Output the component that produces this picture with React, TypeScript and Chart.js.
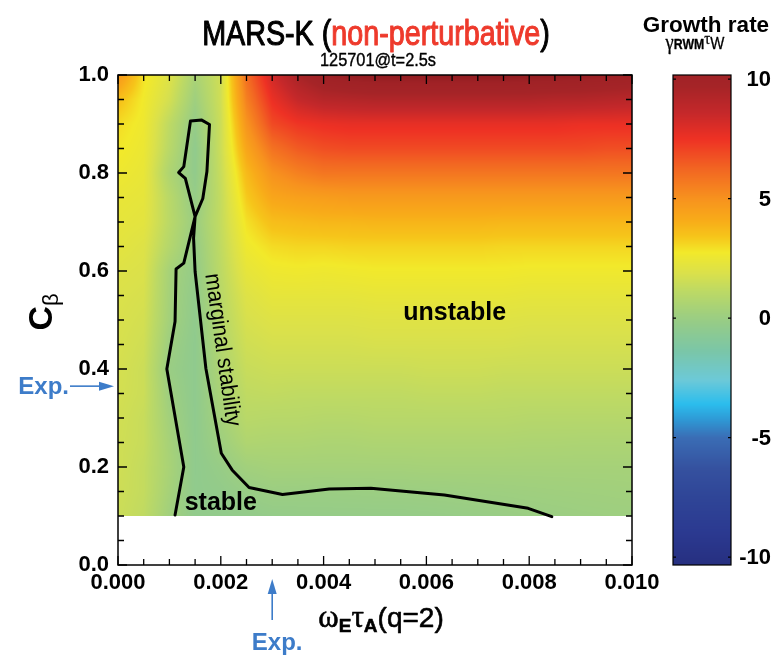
import React, { useEffect, useRef } from "react";
import { Chart, registerables } from "chart.js";

Chart.register(...registerables);

// ---------------- data ----------------
// grid of omega_E*tau_A (columns) and C_beta (rows, top to bottom)
const omegaGrid = [0, 0.0005, 0.001, 0.0015, 0.002, 0.0025, 0.003, 0.0035, 0.004, 0.0045, 0.005,
  0.0055, 0.006, 0.0065, 0.007, 0.0075, 0.008, 0.0085, 0.009, 0.0095, 0.01];
const cbetaGrid = [1.0, 0.95, 0.9, 0.85, 0.8, 0.75, 0.7, 0.65, 0.6, 0.55, 0.5, 0.45, 0.4, 0.35,
  0.3, 0.25, 0.2, 0.15, 0.1];

// growth rate gamma_RWM * tau_w, one array per C_beta row
const g100 = [4.9, 2.9, 2.0, 0.5, 1.6, 6.0, 8.3, 9.6, 10.4, 10.7, 10.8, 10.8, 10.8, 10.8, 10.8, 10.8, 10.7, 10.7, 10.6, 10.5, 10.4];
const g095 = [3.6, 2.7, 1.7, 0.15, 1.6, 5.5, 7.6, 8.6, 9.1, 9.2, 9.3, 9.3, 9.3, 9.3, 9.3, 9.3, 9.3, 9.2, 9.2, 9.1, 9.0];
const g090 = [3.0, 2.6, 1.15, -0.2, 1.5, 4.9, 6.9, 7.4, 7.6, 7.7, 7.7, 7.7, 7.7, 7.7, 7.7, 7.7, 7.7, 7.7, 7.6, 7.6, 7.6];
const g085 = [2.8, 2.5, 1.0, -0.4, 1.5, 4.3, 5.9, 6.5, 6.8, 6.9, 6.9, 6.9, 6.9, 6.9, 6.9, 6.9, 6.9, 6.9, 6.9, 6.8, 6.8];
const g080 = [2.6, 2.4, 0.65, -0.35, 1.4, 3.7, 5.0, 5.5, 5.8, 5.8, 5.8, 5.8, 5.8, 5.8, 5.8, 5.8, 5.8, 5.8, 5.8, 5.8, 5.8];
const g075 = [2.4, 2.3, 1.0, -0.2, 1.3, 3.3, 4.3, 4.5, 4.6, 4.7, 4.7, 4.7, 4.7, 4.7, 4.7, 4.7, 4.7, 4.7, 4.7, 4.7, 4.7];
const g070 = [2.3, 2.2, 1.05, 0.0, 1.3, 2.9, 3.6, 3.7, 3.8, 3.8, 3.85, 3.85, 3.85, 3.85, 3.85, 3.8, 3.8, 3.8, 3.8, 3.8, 3.8];
const g065 = [2.2, 2.0, 0.85, -0.15, 1.2, 2.6, 3.0, 3.1, 3.1, 3.15, 3.15, 3.15, 3.15, 3.15, 3.15, 3.1, 3.1, 3.1, 3.1, 3.1, 3.1];
const g060 = [2.0, 1.9, 0.4, -0.25, 1.1, 2.3, 2.6, 2.65, 2.6, 2.65, 2.7, 2.7, 2.7, 2.7, 2.7, 2.7, 2.65, 2.65, 2.65, 2.65, 2.65];
const g055 = [1.9, 1.8, 0.35, -0.35, 1.0, 2.0, 2.3, 2.3, 2.3, 2.3, 2.35, 2.35, 2.35, 2.35, 2.35, 2.35, 2.3, 2.3, 2.3, 2.3, 2.3];
const g050 = [1.85, 1.7, 0.3, -0.4, 0.9, 1.8, 2.0, 2.0, 2.0, 2.0, 2.05, 2.05, 2.05, 2.05, 2.05, 2.05, 2.0, 2.0, 2.0, 2.0, 2.0];
const g045 = [1.8, 1.6, 0.1, -0.45, 0.8, 1.6, 1.75, 1.75, 1.75, 1.75, 1.8, 1.8, 1.8, 1.8, 1.8, 1.8, 1.75, 1.75, 1.75, 1.75, 1.75];
const g040 = [1.75, 1.5, -0.05, -0.45, 0.65, 1.4, 1.5, 1.5, 1.5, 1.5, 1.5, 1.5, 1.55, 1.55, 1.55, 1.5, 1.5, 1.5, 1.5, 1.5, 1.5];
const g035 = [1.7, 1.5, 0.1, -0.45, 0.5, 1.2, 1.25, 1.2, 1.2, 1.2, 1.2, 1.2, 1.25, 1.25, 1.25, 1.2, 1.2, 1.2, 1.2, 1.2, 1.2];
const g030 = [1.65, 1.4, 0.27, -0.45, 0.35, 1.0, 0.95, 0.95, 0.9, 0.9, 0.95, 0.95, 0.95, 0.95, 0.95, 0.95, 0.9, 0.9, 0.9, 0.9, 0.9];
const g025 = [1.6, 1.4, 0.4, -0.42, 0.12, 0.7, 0.65, 0.65, 0.6, 0.6, 0.65, 0.65, 0.65, 0.65, 0.65, 0.65, 0.62, 0.62, 0.6, 0.6, 0.6];
const g020 = [1.6, 1.3, 0.47, -0.42, -0.15, 0.25, 0.35, 0.35, 0.35, 0.35, 0.35, 0.35, 0.38, 0.38, 0.38, 0.38, 0.38, 0.38, 0.38, 0.38, 0.38];
const g015 = [1.55, 1.3, 0.37, -0.4, -0.3, -0.12, 0.02, 0.0, -0.02, 0.0, 0.02, 0.03, 0.05, 0.07, 0.1, 0.12, 0.15, 0.18, 0.2, 0.22, 0.25];
const g010 = [1.5, 1.2, 0.22, -0.35, -0.35, -0.3, -0.25, -0.22, -0.2, -0.2, -0.2, -0.2, -0.18, -0.15, -0.12, -0.08, -0.03, 0.01, 0.05, 0.08, 0.1];

const growthRows = [g100, g095, g090, g085, g080, g075, g070, g065, g060, g055, g050, g045, g040,
  g035, g030, g025, g020, g015, g010];

// marginal stability contour (gamma = 0)
const contourOmega = [0.00111, 0.00128, 0.00095, 0.00111, 0.00113, 0.00128, 0.0015, 0.00165, 0.00173,
  0.00178, 0.00163, 0.00141, 0.00128, 0.00118, 0.00131, 0.0015, 0.00147, 0.0015, 0.00171, 0.00201,
  0.00222, 0.00255, 0.0032, 0.00411, 0.00492, 0.00635, 0.00798, 0.00844];
const contourCbeta = [0.102, 0.2, 0.4, 0.497, 0.604, 0.616, 0.711, 0.748, 0.803, 0.899, 0.908, 0.906,
  0.813, 0.801, 0.789, 0.711, 0.667, 0.599, 0.401, 0.228, 0.194, 0.158, 0.144, 0.155, 0.1565, 0.143,
  0.1157, 0.0986];

// axes
const xMajorTicks = [0, 0.002, 0.004, 0.006, 0.008, 0.01];
const xTickLabels = ["0.000", "0.002", "0.004", "0.006", "0.008", "0.010"];
const yMajorTicks = [0, 0.2, 0.4, 0.6, 0.8, 1.0];
const yTickLabels = ["0.0", "0.2", "0.4", "0.6", "0.8", "1.0"];
const xMinorStep = 0.0005;
const yMinorStep = 0.05;
const cbTicks = [10, 5, 0, -5, -10];
const cbTickLabels = ["10", "5", "0", "-5", "-10"];
const cbMin = -10.33;
const cbMax = 10.17;

// experimental point
const expOmega = 0.003;
const expCbeta = 0.365;

// annotations (data coordinates)
const unstableAt = { x: 0.00655, y: 0.5 };
const stableAt = { x: 0.002, y: 0.112 };
const marginalAt = { x: 0.00203, y: 0.439 };

// colour map of the growth rate
const colorStops: [number, string][] = [
  [-10.4, "#262f7f"], [-9, "#2b3990"], [-7.5, "#2f4597"], [-6.3, "#35519f"], [-5, "#3a6db5"],
  [-4.3, "#2f96d3"], [-3.6, "#2bbded"], [-2.6, "#6cc9d8"], [-1.4, "#7ac6a8"], [-0.3, "#93cb8a"],
  [0.25, "#a2d07c"], [1.1, "#bcd965"], [1.9, "#dbe14a"], [2.75, "#f2e92a"], [3.4, "#f6c51a"],
  [4.1, "#f8ab19"], [5, "#f7921e"], [6.2, "#f26722"], [7.5, "#ee3124"], [8.6, "#c4282a"],
  [9.7, "#a52427"], [10.3, "#a02226"], [11, "#8a191d"],
];

// ---------------- helpers ----------------
const SANS = '"Liberation Sans", Arial, Helvetica, sans-serif';
const SERIF = '"Liberation Serif", "DejaVu Serif", serif';
const BLUE = "#3d7cc9";

function hexToRgb(h: string) {
  const n = parseInt(h.slice(1), 16);
  return [(n >> 16) & 255, (n >> 8) & 255, n & 255];
}
const cmap = colorStops.map(([v, h]) => ({ v, c: hexToRgb(h) }));

function colorFor(v: number) {
  if (v <= cmap[0].v) return cmap[0].c;
  if (v >= cmap[cmap.length - 1].v) return cmap[cmap.length - 1].c;
  for (let i = 0; i < cmap.length - 1; i++) {
    const a = cmap[i], b = cmap[i + 1];
    if (v >= a.v && v <= b.v) {
      const t = (v - a.v) / (b.v - a.v);
      return [0, 1, 2].map((k) => a.c[k] + (b.c[k] - a.c[k]) * t);
    }
  }
  return cmap[0].c;
}

function locate(grid: number[], v: number): [number, number] {
  const n = grid.length;
  for (let i = 0; i < n - 1; i++) {
    const a = grid[i], b = grid[i + 1];
    const lo = Math.min(a, b), hi = Math.max(a, b);
    if (v >= lo && v <= hi) return [i, (v - a) / (b - a)];
  }
  const asc = grid[n - 1] > grid[0];
  if ((asc && v < grid[0]) || (!asc && v > grid[0])) return [0, 0];
  return [n - 2, 1];
}

type Run = { text: string; font: string; dy?: number; color?: string };
function drawRuns(ctx: CanvasRenderingContext2D, runs: Run[], x: number, y: number, align: string,
  sx = 1, heavy = 0) {
  const widths = runs.map((r) => {
    ctx.font = r.font;
    return ctx.measureText(r.text).width;
  });
  const total = widths.reduce((a, b) => a + b, 0);
  let cx = align === "center" ? -total / 2 : align === "right" ? -total : 0;
  ctx.save();
  ctx.translate(x, y);
  ctx.scale(sx, 1);
  ctx.textAlign = "left";
  ctx.textBaseline = "alphabetic";
  ctx.lineJoin = "round";
  runs.forEach((r, i) => {
    ctx.font = r.font;
    ctx.fillStyle = r.color || "#000";
    ctx.fillText(r.text, cx, r.dy || 0);
    if (heavy > 0) {
      ctx.strokeStyle = r.color || "#000";
      ctx.lineWidth = heavy;
      ctx.strokeText(r.text, cx, r.dy || 0);
    }
    cx += widths[i];
  });
  ctx.restore();
}

function arrow(ctx: CanvasRenderingContext2D, x0: number, y0: number, x1: number, y1: number) {
  const ang = Math.atan2(y1 - y0, x1 - x0);
  const hl = 15, hw = 4.5;
  const bx = x1 - hl * Math.cos(ang), by = y1 - hl * Math.sin(ang);
  ctx.strokeStyle = BLUE;
  ctx.fillStyle = BLUE;
  ctx.lineWidth = 1.6;
  ctx.beginPath();
  ctx.moveTo(x0, y0);
  ctx.lineTo(bx, by);
  ctx.stroke();
  ctx.beginPath();
  ctx.moveTo(x1, y1);
  ctx.lineTo(bx + hw * Math.sin(ang), by - hw * Math.cos(ang));
  ctx.lineTo(bx - hw * Math.sin(ang), by + hw * Math.cos(ang));
  ctx.closePath();
  ctx.fill();
}

// ---------------- plugins ----------------
const heatmapPlugin = {
  id: "heatmap",
  beforeDatasetsDraw(chart: any) {
    const ctx = chart.ctx as CanvasRenderingContext2D;
    const xs = chart.scales.x, ys = chart.scales.y;
    const px0 = xs.getPixelForValue(omegaGrid[0]);
    const px1 = xs.getPixelForValue(omegaGrid[omegaGrid.length - 1]);
    const py0 = ys.getPixelForValue(cbetaGrid[0]);
    const py1 = ys.getPixelForValue(cbetaGrid[cbetaGrid.length - 1]);
    const left = Math.round(Math.min(px0, px1)), right = Math.round(Math.max(px0, px1));
    const top = Math.round(Math.min(py0, py1)), bottom = Math.round(Math.max(py0, py1));
    const w = right - left, h = bottom - top;
    if (w <= 0 || h <= 0) return;
    const off = document.createElement("canvas");
    off.width = w;
    off.height = h;
    const octx = off.getContext("2d") as CanvasRenderingContext2D;
    const img = octx.createImageData(w, h);
    const colIdx: [number, number][] = [];
    for (let px = 0; px < w; px++) colIdx.push(locate(omegaGrid, xs.getValueForPixel(left + px + 0.5)));
    for (let py = 0; py < h; py++) {
      const [j, s] = locate(cbetaGrid, ys.getValueForPixel(top + py + 0.5));
      const rA = growthRows[j], rB = growthRows[j + 1];
      for (let px = 0; px < w; px++) {
        const [i, t] = colIdx[px];
        const a = rA[i] * (1 - t) + rA[i + 1] * t;
        const b = rB[i] * (1 - t) + rB[i + 1] * t;
        const c = colorFor(a * (1 - s) + b * s);
        const k = (py * w + px) * 4;
        img.data[k] = c[0];
        img.data[k + 1] = c[1];
        img.data[k + 2] = c[2];
        img.data[k + 3] = 255;
      }
    }
    octx.putImageData(img, 0, 0);
    ctx.drawImage(off, left, top);
  },
};

const decorPlugin = {
  id: "decor",
  afterDatasetsDraw(chart: any) {
    const ctx = chart.ctx as CanvasRenderingContext2D;
    const ca = chart.chartArea;
    const xs = chart.scales.x, ys = chart.scales.y, cb = chart.scales.cb;
    ctx.save();

    // frame
    ctx.strokeStyle = "#000";
    ctx.lineWidth = 1.5;
    ctx.strokeRect(ca.left, ca.top, ca.right - ca.left, ca.bottom - ca.top);

    // inward ticks
    ctx.lineWidth = 1.3;
    const nx = Math.round((xs.max - xs.min) / xMinorStep);
    for (let k = 0; k <= nx; k++) {
      const p = xs.getPixelForValue(xs.min + k * xMinorStep);
      const len = k % 4 === 0 ? 9 : 6;
      ctx.beginPath();
      ctx.moveTo(p, ca.bottom);
      ctx.lineTo(p, ca.bottom - len);
      ctx.moveTo(p, ca.top);
      ctx.lineTo(p, ca.top + len);
      ctx.stroke();
    }
    const ny = Math.round((ys.max - ys.min) / yMinorStep);
    for (let k = 0; k <= ny; k++) {
      const p = ys.getPixelForValue(ys.min + k * yMinorStep);
      const len = k % 4 === 0 ? 9 : 6;
      ctx.beginPath();
      ctx.moveTo(ca.left, p);
      ctx.lineTo(ca.left + len, p);
      ctx.moveTo(ca.right, p);
      ctx.lineTo(ca.right - len, p);
      ctx.stroke();
    }

    // region labels
    ctx.fillStyle = "#000";
    ctx.textAlign = "center";
    ctx.textBaseline = "alphabetic";
    ctx.font = `bold 25px ${SANS}`;
    ctx.fillText("unstable", xs.getPixelForValue(unstableAt.x), ys.getPixelForValue(unstableAt.y));
    ctx.fillText("stable", xs.getPixelForValue(stableAt.x), ys.getPixelForValue(stableAt.y));
    ctx.save();
    ctx.translate(xs.getPixelForValue(marginalAt.x), ys.getPixelForValue(marginalAt.y));
    ctx.rotate((82 * Math.PI) / 180);
    ctx.scale(0.9, 1);
    ctx.font = `23px ${SANS}`;
    ctx.textBaseline = "middle";
    ctx.fillText("marginal stability", 0, 0);
    ctx.restore();

    // title
    drawRuns(ctx, [
      { text: "MARS-K (", font: `35px ${SANS}` },
      { text: "non-perturbative", font: `35px ${SANS}`, color: "#ee3a2c" },
      { text: ")", font: `35px ${SANS}` },
    ], 376, 45, "center", 0.82, 1.1);
    drawRuns(ctx, [{ text: "125701@t=2.5s", font: `19px ${SANS}` }], 378, 66, "center", 0.86, 0.4);

    // axis titles
    drawRuns(ctx, [
      { text: "\u03c9", font: `31px ${SERIF}` },
      { text: "E", font: `bold 19px ${SANS}`, dy: 5 },
      { text: "\u03c4", font: `31px ${SERIF}` },
      { text: "A", font: `bold 19px ${SANS}`, dy: 5 },
      { text: "(q=2)", font: `28px ${SANS}` },
    ], 381, 627, "center", 1, 0.6);
    ctx.save();
    ctx.translate(40, 312);
    ctx.rotate(-Math.PI / 2);
    drawRuns(ctx, [
      { text: "C", font: `bold 34px ${SANS}` },
      { text: "\u03b2", font: `22px ${SANS}`, dy: 6 },
    ], 0, 12, "center");
    ctx.restore();

    // experimental markers
    const ey = ys.getPixelForValue(expCbeta);
    arrow(ctx, ca.left - 48, ey, ca.left - 4, ey);
    ctx.fillStyle = BLUE;
    ctx.font = `bold 24px ${SANS}`;
    ctx.textAlign = "right";
    ctx.textBaseline = "alphabetic";
    ctx.fillText("Exp.", ca.left - 49, ey + 8);
    const ex = xs.getPixelForValue(expOmega);
    arrow(ctx, ex, ca.bottom + 55, ex, ca.bottom + 14);
    ctx.textAlign = "center";
    ctx.fillText("Exp.", ex + 5, ca.bottom + 85);

    // colour bar
    const bx0 = ca.right + 41, bw = 58;
    const ty = cb.getPixelForValue(cb.max), by = cb.getPixelForValue(cb.min);
    for (let py = Math.floor(ty); py < Math.ceil(by); py++) {
      const c = colorFor(cb.getValueForPixel(py + 0.5));
      ctx.fillStyle = `rgb(${Math.round(c[0])},${Math.round(c[1])},${Math.round(c[2])})`;
      ctx.fillRect(bx0, py, bw, 1);
    }
    ctx.strokeStyle = "#000";
    ctx.lineWidth = 1.2;
    ctx.strokeRect(bx0, ty, bw, by - ty);
    ctx.fillStyle = "#000";
    ctx.font = `bold 22px ${SANS}`;
    ctx.textAlign = "right";
    ctx.textBaseline = "middle";
    cbTicks.forEach((v, i) => {
      const py = cb.getPixelForValue(v);
      ctx.beginPath();
      ctx.moveTo(bx0, py);
      ctx.lineTo(bx0 + 3, py);
      ctx.moveTo(bx0 + bw, py);
      ctx.lineTo(bx0 + bw - 3, py);
      ctx.stroke();
      ctx.fillText(cbTickLabels[i], bx0 + bw + 40, py + 1);
    });
    drawRuns(ctx, [{ text: "Growth rate", font: `bold 22.5px ${SANS}` }], 706, 32, "center");
    drawRuns(ctx, [
      { text: "\u03b3", font: `21px ${SERIF}` },
      { text: "RWM", font: `bold 14px ${SANS}` },
      { text: "\u03c4", font: `17px ${SERIF}`, dy: -5 },
      { text: "W", font: `17px ${SANS}` },
    ], 695, 49, "center", 0.88, 0.3);

    ctx.restore();
  },
};

export default function App() {
  const ref = useRef<HTMLCanvasElement | null>(null);
  useEffect(() => {
    document.body.style.margin = "0";
    const canvas = ref.current;
    if (!canvas) return;
    const chart = new Chart(canvas, {
      type: "scatter",
      data: {
        datasets: [
          {
            data: contourOmega.map((x, i) => ({ x, y: contourCbeta[i] })),
            showLine: true,
            borderColor: "#000",
            borderWidth: 3,
            pointRadius: 0,
            borderJoinStyle: "round",
            borderCapStyle: "round",
            tension: 0,
          } as any,
        ],
      },
      options: {
        responsive: false,
        animation: false,
        devicePixelRatio: 1,
        events: [],
        layout: { padding: { top: 75, left: 0, right: 0, bottom: 0 } },
        plugins: { legend: { display: false }, tooltip: { enabled: false }, title: { display: false } },
        scales: {
          x: {
            type: "linear",
            position: "bottom",
            min: 0,
            max: 0.01,
            afterBuildTicks: (s: any) => {
              s.ticks = xMajorTicks.map((v) => ({ value: v }));
            },
            afterFit: (s: any) => {
              s.height = 92;
            },
            ticks: {
              callback: (_v: any, i: number) => xTickLabels[i],
              font: { family: SANS, size: 22, weight: "bold" },
              color: "#000",
              padding: 5,
              maxRotation: 0,
              autoSkip: false,
            },
            grid: { display: false, drawTicks: false },
            border: { display: false },
          },
          y: {
            type: "linear",
            position: "left",
            min: 0,
            max: 1,
            afterBuildTicks: (s: any) => {
              s.ticks = yMajorTicks.map((v) => ({ value: v }));
            },
            afterFit: (s: any) => {
              s.width = 118;
            },
            ticks: {
              callback: (_v: any, i: number) => yTickLabels[i],
              font: { family: SANS, size: 22, weight: "bold" },
              color: "#000",
              padding: 9,
              autoSkip: false,
            },
            grid: { display: false, drawTicks: false },
            border: { display: false },
          },
          cb: {
            type: "linear",
            position: "right",
            min: cbMin,
            max: cbMax,
            afterFit: (s: any) => {
              s.width = 143;
            },
            ticks: { display: false },
            grid: { display: false, drawTicks: false },
            border: { display: false },
          },
        },
      } as any,
      plugins: [heatmapPlugin, decorPlugin],
    });
    return () => chart.destroy();
  }, []);
  return <canvas ref={ref} width={775} height={657} style={{ display: "block" }} />;
}
